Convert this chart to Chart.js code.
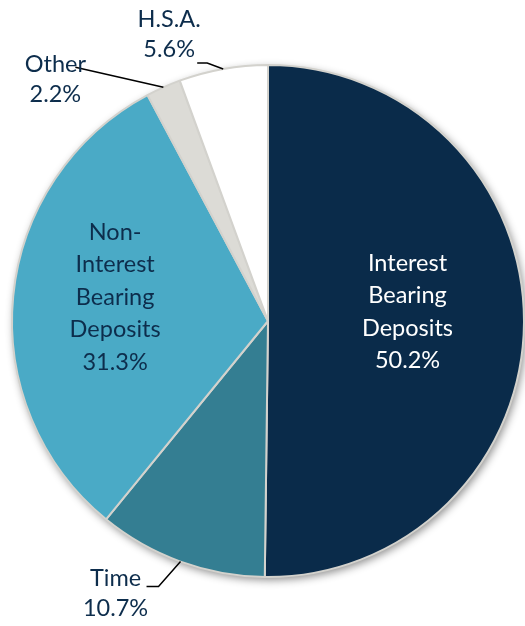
<!DOCTYPE html>
<html>
<head>
<meta charset="utf-8">
<script src="https://cdn.jsdelivr.net/npm/chart.js@4.4.0/dist/chart.umd.min.js"></script>
<style>
  html, body { margin: 0; padding: 0; background: #ffffff; }
  #wrap { width: 525px; height: 626px; }
</style>
</head>
<body>
<div id="wrap"><canvas id="chart"></canvas></div>
<script>
// deposit mix, clockwise from 12 o'clock
const categories = ['Interest Bearing Deposits', 'Time', 'Non-Interest Bearing Deposits', 'Other', 'H.S.A.'];
const labelLines = [
    ['Interest', 'Bearing', 'Deposits'],
    ['Time'],
    ['Non-', 'Interest', 'Bearing', 'Deposits'],
    ['Other'],
    ['H.S.A.']
];
const shares = [50.2, 10.7, 31.3, 2.2, 5.6];

const sliceColors = ['#0a2b4a', '#347e92', '#4aaac6', '#dcdbd6', '#ffffff'];
const navy = '#0d2d4c';
const fontFamily = 'Lato, "Open Sans", sans-serif';

// label placement: inside ones sit on the mid angle at a fraction of the radius,
// outside ones hang off the arc edge with a leader line
const labelLayout = [
    { inside: true, frac: 0.545, dx: 0, dy: -10, color: '#ffffff' },
    { inside: false, dx: -65, dy: 32, leader: [[-22, 25], [-34, 25]] },
    { inside: true, frac: 0.6, dx: 0, dy: -9, color: navy },
    { inside: false, dx: -108, dy: -8, leader: [[-88, -20]] },
    { inside: false, dx: -54, dy: -35, leader: [[-16, -6], [-26, -6]] }
];

const shadowPlugin = {
    id: 'pieShadow',
    beforeDatasetsDraw(chart) {
        const arc = chart.getDatasetMeta(0).data[0];
        if (!arc) return;
        const ctx = chart.ctx;
        ctx.save();
        ctx.shadowColor = 'rgba(0, 0, 0, 0.45)';
        ctx.shadowBlur = 9;
        ctx.shadowOffsetX = 2;
        ctx.shadowOffsetY = 3;
        ctx.fillStyle = '#ffffff';
        ctx.beginPath();
        ctx.arc(arc.x, arc.y, arc.outerRadius, 0, Math.PI * 2);
        ctx.fill();
        ctx.restore();
    }
};

const labelPlugin = {
    id: 'sliceLabels',
    afterDatasetsDraw(chart) {
        const ctx = chart.ctx;
        const arcs = chart.getDatasetMeta(0).data;
        ctx.save();
        ctx.font = '23.5px ' + fontFamily;
        ctx.textAlign = 'center';
        ctx.textBaseline = 'middle';

        arcs.forEach((arc, i) => {
            const lay = labelLayout[i];
            const mid = (arc.startAngle + arc.endAngle) / 2;
            const lines = labelLines[i].concat([shares[i].toFixed(1) + '%']);

            if (lay.inside) {
                const d = arc.outerRadius * lay.frac;
                const cx = arc.x + Math.cos(mid) * d + lay.dx;
                const cy = arc.y + Math.sin(mid) * d + lay.dy;
                const lh = 32.5;
                ctx.fillStyle = lay.color;
                lines.forEach((t, k) => {
                    ctx.fillText(t, cx, cy + (k - (lines.length - 1) / 2) * lh);
                });
            } else {
                const ex = arc.x + Math.cos(mid) * arc.outerRadius;
                const ey = arc.y + Math.sin(mid) * arc.outerRadius;
                ctx.strokeStyle = '#000000';
                ctx.lineWidth = 1.5;
                ctx.beginPath();
                ctx.moveTo(ex, ey);
                lay.leader.forEach(p => ctx.lineTo(ex + p[0], ey + p[1]));
                ctx.stroke();

                const cx = ex + lay.dx;
                const cy = ey + lay.dy;
                const lh = 30;
                ctx.fillStyle = navy;
                lines.forEach((t, k) => {
                    ctx.fillText(t, cx, cy + (k - (lines.length - 1) / 2) * lh);
                });
            }
        });
        ctx.restore();
    }
};

new Chart(document.getElementById('chart'), {
    type: 'pie',
    data: {
        labels: categories,
        datasets: [{
            data: shares,
            backgroundColor: sliceColors,
            borderColor: '#d3d2cd',
            borderWidth: 2
        }]
    },
    options: {
        responsive: true,
        maintainAspectRatio: false,
        animation: false,
        layout: {
            padding: { left: 11, right: 0, top: 64, bottom: 48 }
        },
        plugins: {
            legend: { display: false },
            tooltip: { enabled: false }
        }
    },
    plugins: [shadowPlugin, labelPlugin]
});
</script>
</body>
</html>
